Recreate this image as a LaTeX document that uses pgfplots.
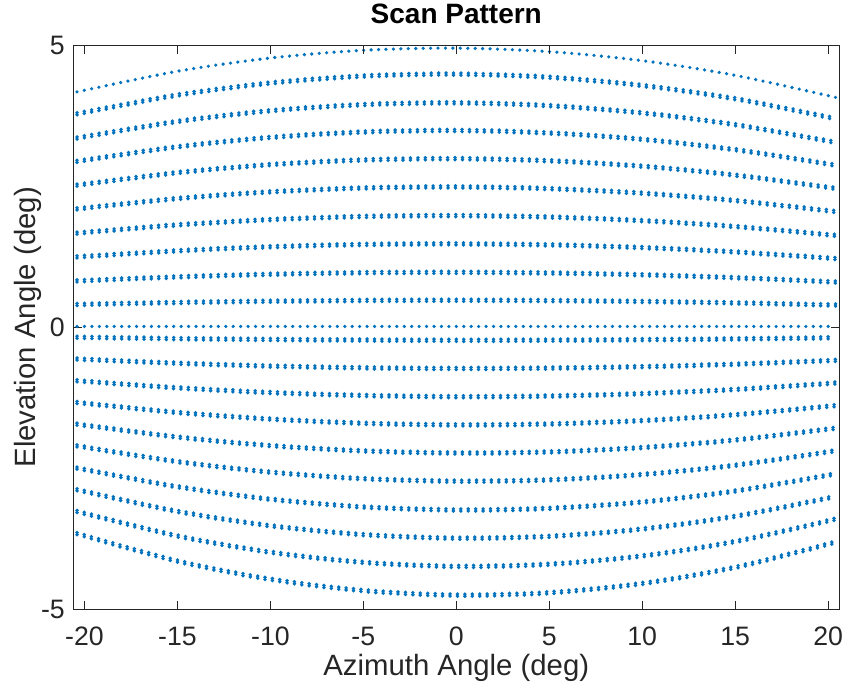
\documentclass[border=0pt]{standalone}
\usepackage{pgfplots}
\pgfplotsset{compat=1.18}
\usepackage{pgfplotstable}
\usetikzlibrary{calc}
\usepackage{fontspec}
\setmainfont{Liberation Sans}
\definecolor{mblue}{RGB}{0,114,189}
\definecolor{axc}{RGB}{38,38,38}

\pgfplotstableread{
x      u1    u2    u3    u4    u5    u6    u7    u8    u9    u10   z     l1     l2     l3     l4     l5     l6     l7     l8     l9     l10
-20.4  4.174 3.786 3.356 2.943 2.521 2.100 1.670 1.248 0.822 0.405 0.015 -0.177 -0.562 -0.948 -1.333 -1.718 -2.103 -2.496 -2.881 -3.266 -3.659
-15    4.540 4.118 3.650 3.201 2.742 2.284 1.816 1.357 0.894 0.440 0.015 -0.201 -0.637 -1.073 -1.510 -1.946 -2.382 -2.827 -3.264 -3.700 -4.145
-10    4.775 4.332 3.840 3.367 2.885 2.402 1.910 1.428 0.941 0.463 0.015 -0.216 -0.687 -1.157 -1.627 -2.098 -2.568 -3.048 -3.518 -3.988 -4.468
-5     4.912 4.455 3.949 3.463 2.967 2.471 1.965 1.469 0.968 0.476 0.015 -0.226 -0.718 -1.209 -1.701 -2.192 -2.684 -3.185 -3.676 -4.168 -4.669
0      4.950 4.490 3.980 3.490 2.990 2.490 1.980 1.480 0.975 0.480 0.015 -0.230 -0.730 -1.230 -1.730 -2.229 -2.729 -3.239 -3.739 -4.239 -4.749
5      4.888 4.434 3.930 3.446 2.953 2.459 1.955 1.462 0.963 0.474 0.015 -0.228 -0.723 -1.219 -1.714 -2.210 -2.705 -3.210 -3.706 -4.201 -4.706
10     4.728 4.288 3.801 3.333 2.856 2.378 1.891 1.414 0.931 0.458 0.015 -0.220 -0.698 -1.176 -1.654 -2.132 -2.610 -3.098 -3.576 -4.054 -4.542
15     4.468 4.053 3.593 3.150 2.699 2.248 1.787 1.336 0.880 0.433 0.015 -0.206 -0.654 -1.102 -1.550 -1.998 -2.446 -2.903 -3.351 -3.799 -4.256
20.4   4.077 3.698 3.278 2.874 2.463 2.051 1.631 1.219 0.803 0.395 0.015 -0.185 -0.586 -0.987 -1.388 -1.789 -2.190 -2.599 -3.000 -3.401 -3.810
}\scan

\begin{document}
\begin{tikzpicture}
\useasboundingbox (-55pt,-61.3pt) rectangle (578.8pt,457pt);
\begin{axis}[
  name=ax,
  width=574.5pt, height=423pt, scale only axis,
  xmin=-20.6, xmax=20.6, ymin=-5, ymax=5,
  xtick={-20,-15,...,20}, ytick={-5,0,5},
  tick align=inside, major tick length=6.4pt,
  tick style={solid, line cap=butt, color=axc, line width=0.8pt},
  axis line style={solid, line cap=butt, color=axc, line width=0.8pt},
  xtick pos=both, ytick pos=both,
  clip=false,
  /pgf/number format/assume math mode=true,
  ticklabel style={font=\fontsize{20}{24}\selectfont, text=axc},
  xticklabel style={anchor=base, yshift=-26.8pt},
  yticklabel style={anchor=east, inner sep=0pt, xshift=-6.2pt},
  xlabel={Azimuth Angle (deg)},
  ylabel={Elevation Angle (deg)},
  label style={font=\fontsize{22}{26}\selectfont, text=axc},
  xlabel style={at={(axis description cs:0.5,-0.118)}, anchor=base},
  ylabel style={at={(axis description cs:-0.0495,0.5)}, anchor=base},
  title={Scan Pattern},
  title style={at={(axis description cs:0.5,1.0253)}, anchor=base, font=\bfseries\fontsize{21}{25}\selectfont},
  dotrow/.style={draw=mblue, line width=2.9pt, line cap=round, dash pattern=on 0pt off 5.578pt, smooth, no markers},
  thinrow/.style={draw=mblue, line width=2.7pt, line cap=round, dash pattern=on 0pt off 5.578pt, smooth, no markers},
]
\addplot[thinrow] table[x=x,y=u1]{\scan};
\addplot[thinrow] table[x=x,y=z]{\scan};
\pgfplotsinvokeforeach{u2,u3,u4,u5,u6,u7,u8,u9,u10,l1,l2,l3,l4,l5,l6,l7,l8,l9,l10}{
  \addplot[dotrow, yshift=0.8pt] table[x=x,y=#1]{\scan};
  \addplot[dotrow, yshift=-0.8pt] table[x=x,y=#1]{\scan};
}
\end{axis}
\draw[solid, line cap=rect, axc, line width=0.9pt] (ax.south west) -- (ax.north west) -- (ax.north east) -- (ax.south east);
\foreach \xx in {0.0146,0.1359,0.2573,0.3786,0.5,0.6214,0.7427,0.8641,0.9854}{
  \draw[solid, axc, line width=0.8pt] ($(ax.north west)!\xx!(ax.north east)$) -- ++(0,-6.4pt);
}
\foreach \yy in {0,0.5,1}{
  \draw[solid, axc, line width=0.8pt] ($(ax.south east)!\yy!(ax.north east)$) -- ++(-6.4pt,0);
}
\end{tikzpicture}
\end{document}
